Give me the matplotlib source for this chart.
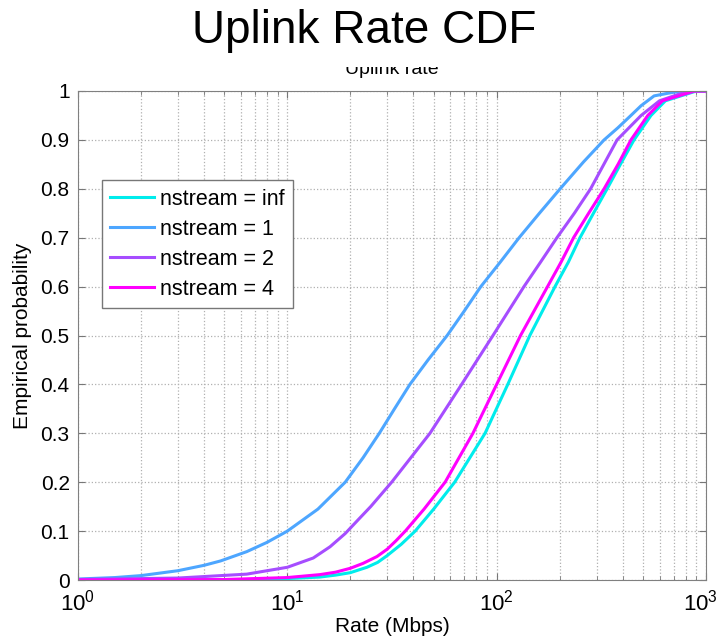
import numpy as np
import matplotlib
matplotlib.use("Agg")
import matplotlib.pyplot as plt
from matplotlib.patches import Rectangle
from matplotlib.transforms import ScaledTranslation

plt.rcParams['font.family'] = ['Liberation Sans', 'DejaVu Sans']
plt.rcParams['mathtext.fontset'] = 'custom'
plt.rcParams['mathtext.rm'] = 'Liberation Sans'
plt.rcParams['mathtext.it'] = 'Liberation Sans'
plt.rcParams['mathtext.bf'] = 'Liberation Sans'

# empirical CDF: rate (Mbps) vs probability
rate_inf = [1, 8, 14.3, 17, 20, 24, 27, 30, 35, 40.8, 50, 63, 88, 113, 144, 190, 220, 250, 290, 337, 390, 453, 546, 640, 900, 1000]
prob_inf = [0, 0.001, 0.006, 0.01, 0.015, 0.026, 0.036, 0.05, 0.073, 0.1, 0.145, 0.2, 0.3, 0.4, 0.5, 0.6, 0.65, 0.7, 0.75, 0.8, 0.85, 0.9, 0.95, 0.98, 1.0, 1.0]

rate_1 = [1, 1.5, 2, 3, 4, 4.8, 6.4, 8, 10, 14, 18.9, 23, 27.5, 32.5, 38.5, 47, 58, 70, 84, 104, 128, 160, 201, 260, 326, 380, 438, 490, 565, 650, 760, 1000]
prob_1 = [0.002, 0.005, 0.009, 0.019, 0.03, 0.039, 0.058, 0.077, 0.1, 0.145, 0.2, 0.25, 0.3, 0.35, 0.4, 0.45, 0.5, 0.55, 0.6, 0.65, 0.7, 0.75, 0.8, 0.855, 0.9, 0.925, 0.95, 0.97, 0.99, 0.995, 1.0, 1.0]

rate_2 = [1, 3, 6.4, 10, 13.3, 16, 18.9, 22, 25, 31.5, 48, 68, 96, 135, 162, 194, 235, 281, 376, 490, 600, 822, 1000]
prob_2 = [0.001, 0.004, 0.012, 0.026, 0.045, 0.068, 0.095, 0.125, 0.15, 0.2, 0.3, 0.4, 0.5, 0.6, 0.65, 0.7, 0.75, 0.8, 0.9, 0.95, 0.98, 1.0, 1.0]

rate_4 = [1, 5, 10, 14.3, 17, 20, 23, 26.8, 30, 33, 36.6, 45, 56.7, 77, 100, 130, 175, 203, 233, 275, 326, 380, 438, 527, 620, 883, 1000]
prob_4 = [0, 0.001, 0.005, 0.011, 0.016, 0.024, 0.034, 0.048, 0.063, 0.08, 0.1, 0.145, 0.2, 0.3, 0.4, 0.5, 0.6, 0.65, 0.7, 0.75, 0.8, 0.85, 0.9, 0.95, 0.98, 1.0, 1.0]

labels = ['nstream = inf', 'nstream = 1', 'nstream = 2', 'nstream = 4']
colors = ['#00ecec', '#4da6ff', '#a64dff', '#ff00ff']
x_ticks = [1, 10, 100, 1000]
x_labels = [r'$10^{0}$', r'$10^{1}$', r'$10^{2}$', r'$10^{3}$']
y_ticks = [0, 0.1, 0.2, 0.3, 0.4, 0.5, 0.6, 0.7, 0.8, 0.9, 1]
y_labels = ['0', '0.1', '0.2', '0.3', '0.4', '0.5', '0.6', '0.7', '0.8', '0.9', '1']

fig = plt.figure(figsize=(7.19, 6.42), dpi=100)
ax = fig.add_axes([78/719, 62/642, 628/719, 489/642])

series = [(rate_inf, prob_inf), (rate_1, prob_1), (rate_2, prob_2), (rate_4, prob_4)]
for (r, p), c, lab in zip(series, colors, labels):
    ax.plot(r, p, color=c, lw=2.2, label=lab)

ax.set_xscale('log')
ax.set_xlim(1, 1000)
ax.set_ylim(0, 1)
ax.set_xticks(x_ticks)
ax.set_xticklabels(x_labels)
ax.set_yticks(y_ticks)
ax.set_yticklabels(y_labels)
ax.grid(True, which='major', linestyle=':', color='#b0b0b0', lw=0.9)
ax.grid(True, which='minor', axis='x', linestyle=':', color='#b0b0b0', lw=0.9)
ax.tick_params(which='both', direction='in', top=True, right=True, color='#777777')
ax.tick_params(axis='y', labelsize=15, pad=6)
ax.tick_params(axis='x', labelsize=16, pad=7)
ax.tick_params(which='major', length=5)
ax.tick_params(which='minor', length=3)
for s in ax.spines.values():
    s.set_color('#808080')

# last x label sits against the right edge, nudge it left a little
last = ax.xaxis.get_major_ticks()[-1].label1
last.set_transform(last.get_transform() + ScaledTranslation(-6/100, 0, fig.dpi_scale_trans))

ax.set_xlabel('Rate (Mbps)', fontsize=15, labelpad=1)
ax.set_ylabel('Empirical probability', fontsize=15, labelpad=6)

leg = ax.legend(loc='upper left', bbox_to_anchor=(0.038, 0.818), borderaxespad=0,
                fontsize=15.5, fancybox=False, framealpha=1, edgecolor='#777777',
                handlelength=2.0, handletextpad=0.3, labelspacing=0.42, borderpad=0.4)
leg.get_frame().set_linewidth(1.0)

# matlab title, partly hidden behind the big title
fig.text(392/719, 1 - 74/642, 'Uplink rate', ha='center', va='baseline', fontsize=14)
fig.patches.append(Rectangle((0, 1 - 67/642), 1, 67/642, transform=fig.transFigure,
                             facecolor='white', edgecolor='none', zorder=5))
fig.text(364/719, 1 - 43/642, 'Uplink Rate CDF', ha='center', va='baseline',
         fontsize=33, zorder=6)

plt.savefig('out.png', dpi=100)
